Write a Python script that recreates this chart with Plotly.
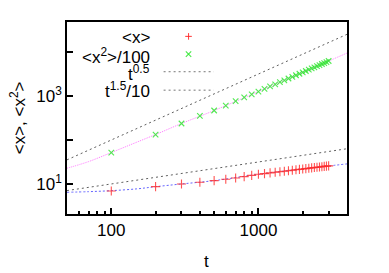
import plotly.graph_objects as go

# ---- data ----
t = [100, 200, 300, 400, 500, 600, 700, 800, 900, 1000,
     1100, 1200, 1300, 1400, 1500, 1600, 1700, 1800, 1900, 2000,
     2100, 2200, 2300, 2400, 2500, 2600, 2700, 2800, 2900, 3000]
x_mean = [6.9, 8.7, 10.0, 10.9, 11.9, 12.8, 13.7, 14.7, 15.7, 16.6,
          17.2, 17.9, 18.4, 19.0, 19.5, 20.0, 20.5, 21.0, 21.5, 21.9,
          22.3, 22.8, 23.2, 23.6, 23.9, 24.3, 24.7, 25.1, 25.4, 25.8]
x2_over_100 = [51.8, 133, 237, 354, 468, 606, 765, 930, 1095, 1265,
               1452, 1648, 1849, 2061, 2275, 2500, 2729, 2965, 3206, 3451,
               3707, 3972, 4227, 4498, 4775, 5058, 5346, 5623, 5916, 6250]

fit_t = [50, 70, 100, 150, 200, 300, 500, 1000, 2000, 4000]
fit_x = [6.47, 6.68, 7.04, 7.75, 8.67, 10.0, 11.9, 16.6, 22.0, 28.6]
fit_x2 = [22.8, 32.2, 51.8, 90.0, 133, 237, 468, 1265, 3451, 9480]

ref_t = [50, 4000]
ref_sqrt = [v ** 0.5 for v in ref_t]
ref_15 = [v ** 1.5 / 10 for v in ref_t]

x_ticks = [100, 1000]
x_ticktext = ["100", "1000"]
x_minor = [60, 70, 80, 90, 200, 300, 400, 500, 600, 700, 800, 900, 2000, 3000]
y_ticks = [10, 100, 1000, 10000]
y_ticktext = ["10<sup>1</sup>", "", "10<sup>3</sup>", ""]

FONT = "Liberation Sans"
GRAY = "rgb(95,95,95)"
RED = "rgb(255,40,40)"
GREEN = "rgb(40,230,40)"
XR = [1.699, 3.602]
YR = [0.317, 4.683]
PW, PH = 280.0, 192.0  # plot area size in px

fig = go.Figure()

# fitted curves
fig.add_trace(go.Scatter(x=fit_t, y=fit_x, mode="lines", line_shape="spline",
                         line=dict(color="rgb(100,100,255)", width=1, dash="2px,2px"),
                         showlegend=False, hoverinfo="skip"))
fig.add_trace(go.Scatter(x=fit_t, y=fit_x2, mode="lines", line_shape="spline",
                         line=dict(color="rgb(255,120,255)", width=1, dash="1px,1px"),
                         showlegend=False, hoverinfo="skip"))
# reference power laws
fig.add_trace(go.Scatter(x=ref_t, y=ref_sqrt, mode="lines",
                         line=dict(color=GRAY, width=1, dash="2px,3px"),
                         showlegend=False, hoverinfo="skip"))
fig.add_trace(go.Scatter(x=ref_t, y=ref_15, mode="lines",
                         line=dict(color=GRAY, width=1, dash="2px,3px"),
                         showlegend=False, hoverinfo="skip"))
# data
fig.add_trace(go.Scatter(x=t, y=x_mean, mode="markers",
                         marker=dict(symbol="cross-thin", size=6.5, opacity=0.8,
                                     line=dict(color=RED, width=1.1)),
                         showlegend=False))
fig.add_trace(go.Scatter(x=t, y=x2_over_100, mode="markers",
                         marker=dict(symbol="x-thin", size=5.5, opacity=0.8,
                                     line=dict(color=GREEN, width=1.1)),
                         showlegend=False))

def seg(x0, y0, x1, y1, color, dash="solid", width=1.1, opacity=0.85):
    fig.add_shape(type="line", xref="paper", yref="paper", x0=x0, y0=y0, x1=x1, y1=y1,
                  line=dict(color=color, width=width, dash=dash), opacity=opacity, layer="above")

# legend key, gnuplot style (text right-aligned, sample to its right)
kx, r = 0.434, 3.3
seg(kx - r / PW, 0.925, kx + r / PW, 0.925, RED)
seg(kx, 0.925 - r / PH, kx, 0.925 + r / PH, RED)
r2 = 2.7
seg(kx - r2 / PW, 0.833 - r2 / PH, kx + r2 / PW, 0.833 + r2 / PH, GREEN)
seg(kx - r2 / PW, 0.833 + r2 / PH, kx + r2 / PW, 0.833 - r2 / PH, GREEN)
seg(0.345, 0.741, 0.524, 0.741, GRAY, "2px,3px", width=1)
seg(0.345, 0.645, 0.524, 0.645, GRAY, "2px,3px", width=1)

legend_text = [("&lt;x&gt;", 0.917), ("&lt;x<sup>2</sup>&gt;/100", 0.825),
               ("t<sup>0.5</sup>", 0.735), ("t<sup>1.5</sup>/10", 0.645)]
for txt, yy in legend_text:
    fig.add_annotation(x=0.305, y=yy, xref="paper", yref="paper", text=txt,
                       showarrow=False, xanchor="right", yanchor="middle",
                       font=dict(family=FONT, size=17, color="black"))

# axis titles
fig.add_annotation(x=0.497, xref="paper", y=-0.245, yref="paper", text="t",
                   showarrow=False, xanchor="center", yanchor="middle",
                   font=dict(family=FONT, size=17, color="black"))
fig.add_annotation(x=-0.174, xref="paper", y=0.5, yref="paper", text="&lt;x&gt;, &lt;x<sup>2</sup>&gt;",
                   showarrow=False, textangle=-90, xanchor="center", yanchor="middle",
                   font=dict(family=FONT, size=17, color="black"))

# page body has an 8px margin: figure shrunk by 8px so the plot area sits at x 67-347, y 22-214
fig.update_layout(
    width=381, height=265,
    margin=dict(l=59, r=42, t=14, b=59),
    paper_bgcolor="white", plot_bgcolor="white",
    font=dict(family=FONT, size=17, color="black"),
    xaxis=dict(type="log", range=XR, tickmode="array", tickvals=x_ticks, ticktext=x_ticktext,
               ticks="inside", ticklen=6, tickwidth=1.5, tickcolor="#000000",
               showline=True, linewidth=1.5, linecolor="#000000", mirror=True,
               showgrid=False, zeroline=False, layer="above traces",
               minor=dict(tickvals=x_minor, ticks="inside", ticklen=3, tickwidth=1.5,
                          tickcolor="#000000", showgrid=False)),
    yaxis=dict(type="log", range=YR, tickmode="array", tickvals=y_ticks, ticktext=y_ticktext,
               ticks="inside", ticklen=6, tickwidth=1.5, tickcolor="#000000",
               showline=True, linewidth=1.5, linecolor="#000000", mirror=True,
               showgrid=False, zeroline=False, layer="above traces"),
)

fig.write_html("out.html")
